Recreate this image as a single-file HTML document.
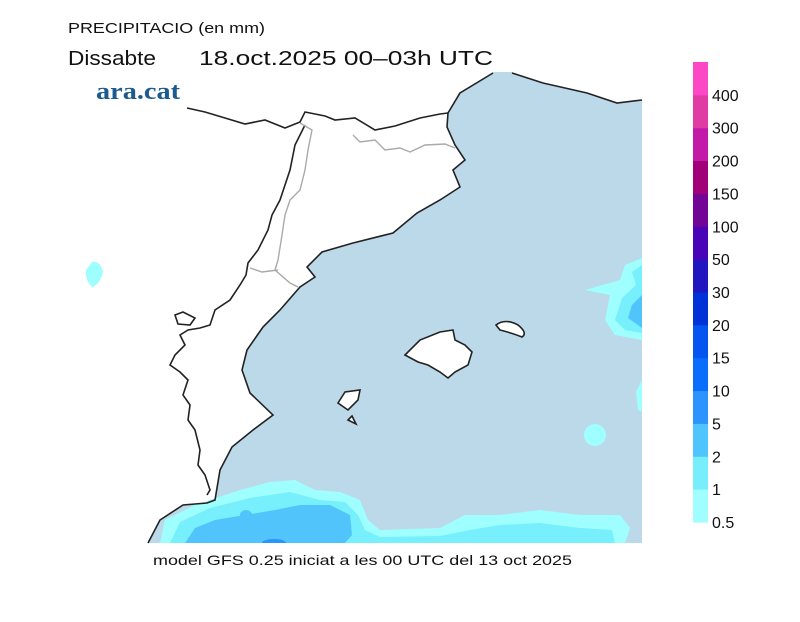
<!DOCTYPE html>
<html><head><meta charset="utf-8"><style>
html,body{margin:0;padding:0;background:#fff;}
body{width:800px;height:617px;position:relative;overflow:hidden;font-family:"Liberation Sans",sans-serif;}
</style></head><body>
<svg width="800" height="617" viewBox="0 0 800 617" xmlns="http://www.w3.org/2000/svg">
<text x="68" y="33" font-size="15" font-family="Liberation Sans" fill="#111" textLength="197" lengthAdjust="spacingAndGlyphs">PRECIPITACIO (en mm)</text>
<text x="68" y="65" font-size="20" font-family="Liberation Sans" fill="#111" textLength="88" lengthAdjust="spacingAndGlyphs">Dissabte</text>
<text x="199" y="65" font-size="20" font-family="Liberation Sans" fill="#111" textLength="294" lengthAdjust="spacingAndGlyphs">18.oct.2025 00–03h UTC</text>
<text x="96" y="99" font-size="24" font-weight="bold" font-family="Liberation Serif" fill="#1b5b8f" textLength="84" lengthAdjust="spacingAndGlyphs">ara.cat</text>

<g>
<path fill="#bcd9ea" d="M493,72 L512,72 L543,83 L587,93 L617,103 L642,100 L642,543 L148,543 L160,520 L183,505 L207,503 L215,500 L220,470 L232,447 L253,430 L273,415 L250,393 L242,370 L247,350 L263,327 L280,310 L300,287 L315,277 L307,267 L322,252 L353,243 L393,233 L417,213 L440,200 L460,187 L453,170 L465,160 L455,145 L447,127 L448,113 L460,93 Z"/>
<g>
<path fill="#9ffffe" d="M160,543 L165,520 L195,505 L240,490 L270,482 L295,480 L315,490 L340,492 L360,500 L368,520 L380,530 L440,528 L465,515 L500,515 L540,510 L580,515 L620,515 L630,528 L625,543 Z"/>
<path fill="#77effc" d="M170,543 L180,522 L210,508 L250,498 L290,492 L320,500 L345,502 L358,515 L365,530 L380,537 L440,536 L470,530 L500,525 L540,523 L580,528 L612,530 L615,543 Z"/>
<path fill="#52c4fc" d="M185,543 L195,528 L215,520 L245,515 L275,510 L300,505 L330,505 L350,515 L352,535 L345,543 Z"/>
<path fill="#52c4fc" d="M240,515 a6,5 0 1,0 12,0 a6,5 0 1,0 -12,0Z"/>
<path fill="#2b94fb" d="M262,543 a12,4 0 1,1 24,0Z"/>
<path fill="#9ffffe" d="M642,258 L625,265 L620,280 L585,290 L610,295 L605,320 L615,335 L642,340 Z"/>
<path fill="#77effc" d="M642,265 L632,272 L636,285 L622,298 L615,320 L625,330 L642,333 Z"/>
<path fill="#52c4fc" d="M642,295 L632,305 L628,318 L642,328 Z"/>
<path fill="#9ffffe" d="M642,380 L636,392 L638,410 L642,412 Z"/>
<circle cx="595" cy="435" r="11" fill="#9ffffe"/>
<path fill="#9ffffe" d="M92,262 Q100,260 103,272 Q100,285 92,287 Q85,280 86,270 Z"/>
</g>
<g fill="none" stroke="#222" stroke-width="1.6">
<path d="M148,543 L160,520 L183,505 L207,503 L215,500 L220,470 L232,447 L253,430 L273,415 L250,393 L242,370 L247,350 L263,327 L280,310 L300,287 L315,277 L307,267 L322,252 L353,243 L393,233 L417,213 L440,200 L460,187 L453,170 L465,160 L455,145 L447,127 L448,113 L460,93 L493,73"/>
<path d="M512,73 L543,83 L587,93 L617,103 L642,100"/>
<path d="M187,108 L205,112 L225,118 L245,124 L265,120 L285,128 L300,122 L305,112 L325,116 L335,120 L355,118 L375,130 L395,126 L420,118 L440,114 L448,113"/>
<path d="M305,125 L295,145 L290,170 L285,185 L280,200 L272,215 L268,230 L258,250 L248,263 L246,275 L240,285 L230,300 L215,310 L210,325 L200,328 L188,330 L180,335 L185,345 L175,355 L170,365 L180,372 L188,380 L183,395 L190,405 L188,420 L195,430 L200,450 L198,465 L205,475 L210,490 L207,495"/>
<path d="M175,315 L183,312 L195,318 L190,325 L178,324 Z"/>
<path fill="#fff" d="M405,355 L420,340 L440,332 L453,330 L455,340 L465,345 L472,352 L468,365 L455,372 L448,378 L440,372 L428,365 L418,362 Z"/>
<path fill="#fff" d="M496,325 Q505,318 518,325 Q528,333 522,337 Q512,333 500,330 Z"/>
<path fill="#fff" d="M338,403 L345,392 L360,390 L358,400 L348,410 Z"/>
<path fill="#fff" d="M348,420 L352,416 L356,424 Z"/>
</g>
<g fill="none" stroke="#aaa" stroke-width="1.4">
<path d="M300,123 L312,130 L308,150 L305,170 L300,190 L290,200 L285,215 L282,235 L278,260 L275,270 L290,283 L298,287"/>
<path d="M250,268 L262,272 L278,270"/>
<path d="M353,135 L360,142 L375,140 L385,150 L400,148 L410,152 L425,145 L445,144 L455,148"/>
</g>
</g>

<g id="colorbar"></g>
<text x="153" y="565" font-size="14" font-family="Liberation Sans" fill="#111" textLength="419" lengthAdjust="spacingAndGlyphs">model GFS 0.25 iniciat a les 00 UTC del 13 oct 2025</text>
</svg>
<script>
const cbLabels = ["0.5","1","2","5","10","15","20","30","50","100","150","200","300","400"];
const cbColors = ["#a0fefe","#78eefc","#50c4fc","#2c94fc","#0a6efc","#0556f0","#0032d8","#2216c0","#4a04b8","#720496","#a00078","#c41aa8","#e03ca4","#fc48c4"];
const g = document.getElementById('colorbar');
const ns = "http://www.w3.org/2000/svg";
const top0 = 62, bottom0 = 522, n = cbColors.length, h = (bottom0 - top0) / n;
for (let i = 0; i < n; i++) {
  const r = document.createElementNS(ns, 'rect');
  r.setAttribute('x', 693); r.setAttribute('y', bottom0 - (i + 1) * h);
  r.setAttribute('width', 15); r.setAttribute('height', h + 0.5);
  r.setAttribute('fill', cbColors[i]);
  
  
  g.appendChild(r);
  const t = document.createElementNS(ns, 'text');
  t.setAttribute('x', 712); t.setAttribute('y', bottom0 - i * h + 6);
  t.setAttribute('font-size', '16'); t.setAttribute('font-family', 'Liberation Sans');
  t.setAttribute('fill', '#111');
  t.textContent = cbLabels[i];
  
  
  g.appendChild(t);
}
</script>
</body></html>
